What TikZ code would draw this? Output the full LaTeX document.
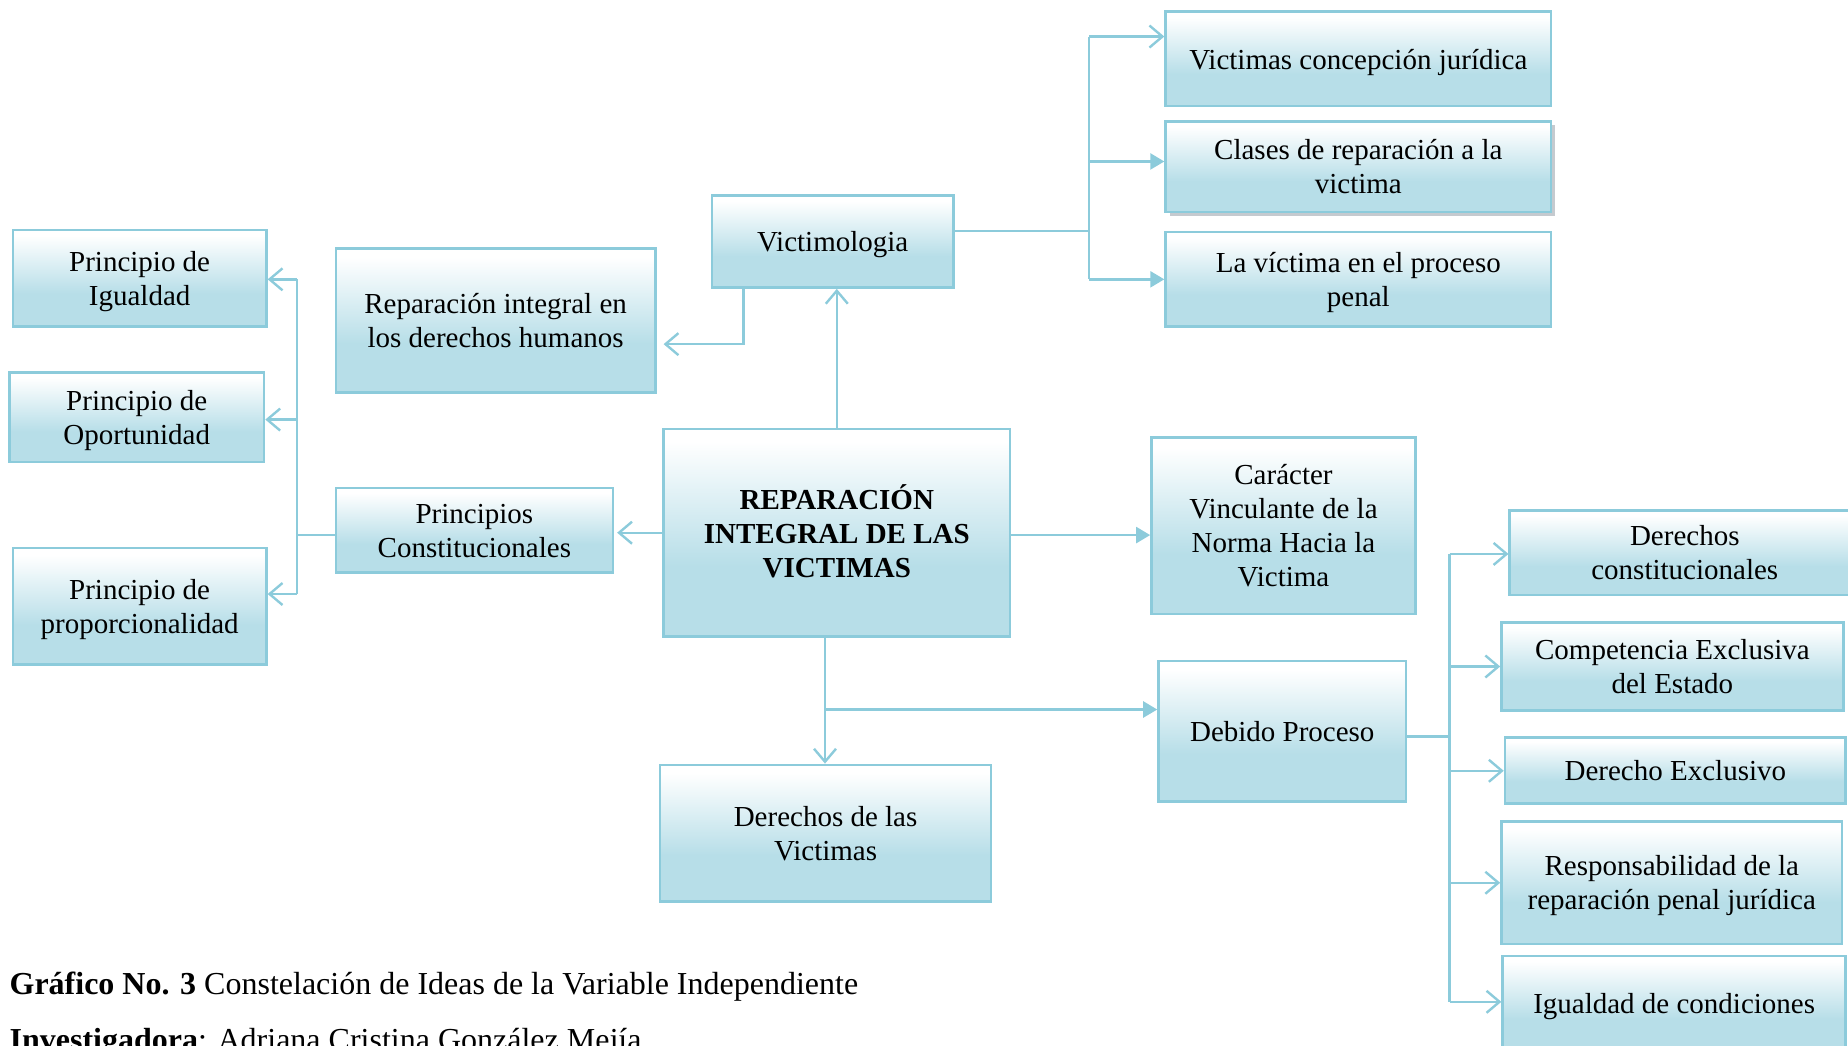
\documentclass[tikz,border=0pt]{standalone}
\usepackage{fontspec}
\setmainfont{Liberation Serif}
\usetikzlibrary{fit,arrows.meta,shadows}
\definecolor{lineblue}{RGB}{140,203,219}
\definecolor{boxbot}{RGB}{183,222,232}
\definecolor{shadowgray}{RGB}{140,150,160}
\pgfdeclareverticalshading{boxshade}{100bp}{color(0bp)=(boxbot); color(25bp)=(boxbot); color(42bp)=(boxbot); color(72bp)=(white); color(100bp)=(white)}
\newcommand\tx[1]{\raisebox{-9.5pt}[0pt][0pt]{\begin{tabular}{@{}c@{}}#1\end{tabular}}}
\begin{document}
\begin{tikzpicture}[x=1.1786pt,y=-1.1786pt,
  box/.style={draw=lineblue, line width=2.6pt, shade, shading=boxshade, inner sep=0pt, font=\fontsize{29}{34}\selectfont},
  con/.style={draw=lineblue, line width=2.4pt},
  oa/.style={-{Straight Barb[length=13pt,width=22pt]}},
  fa/.style={-{Triangle[length=14pt,width=16pt]}},
  captxt/.style={anchor=base west, inner sep=0pt, font=\fontsize{32}{38}\selectfont}]
\clip (0,0) rectangle (1568,887);
% right top column
\node[box, fit={(989,10) (1316,90)}] (v1) {\tx{Victimas concepción jurídica}};
\node[box, fit={(989,103) (1316,180)}, drop shadow={shadow xshift=4pt, shadow yshift=-4pt, fill=shadowgray}] (v2) {\tx{Clases de reparación a la\\victima}};
\node[box, fit={(989,197) (1316,277)}] (v3) {\tx{La víctima en el proceso\\penal}};
\node[box, fit={(604,166) (809,244)}] (vlog) {\tx{Victimologia}};
\node[box, fit={(285,211) (556,333)}] (rih) {\tx{Reparación integral en\\los derechos humanos}};
% left column
\node[box, fit={(11,195) (226,277)}] (pig) {\tx{Principio de\\Igualdad}};
\node[box, fit={(8,316) (224,392)}] (pop) {\tx{Principio de\\Oportunidad}};
\node[box, fit={(11,465) (226,564)}] (ppr) {\tx{Principio de\\proporcionalidad}};
\node[box, fit={(285,414) (520,486)}] (pc) {\tx{Principios\\Constitucionales}};
% center
\node[box, fit={(563,364) (857,540)}, font=\fontsize{29}{34}\selectfont\bfseries] (main) {\tx{REPARACIÓN\\INTEGRAL DE LAS\\VICTIMAS}};
\node[box, fit={(977,371) (1201,521)}] (car) {\tx{Carácter\\Vinculante de la\\Norma Hacia la\\Victima}};
\node[box, fit={(983,561) (1193,680)}] (dp) {\tx{Debido Proceso}};
\node[box, fit={(560,649) (841,765)}] (dv) {\tx{Derechos de las\\Victimas}};
% right bottom column
\node[box, fit={(1281,433) (1578,505)}] (dc) {\tx{Derechos\\constitucionales}};
\node[box, fit={(1274,528) (1564,603)}] (ce) {\tx{Competencia Exclusiva\\del Estado}};
\node[box, fit={(1277,626) (1566,682)}] (dx) {\tx{Derecho Exclusivo}};
\node[box, fit={(1274,697) (1563,801)}] (rp) {\tx{Responsabilidad de la\\reparación penal jurídica}};
\node[box, fit={(1275,811) (1566,892)}] (ig) {\tx{Igualdad de condiciones}};
% connectors: Victimologia branch
\coordinate (vb) at (924,196);
\coordinate (vbt) at (924,31);
\coordinate (vbb) at (924,237);
\draw[con] (vlog.east |- vb) -- (vb);
\draw[con] (vbt) -- (vbb);
\draw[con,oa] (vbt) -- (vbt -| v1.west);
\draw[con,fa] (vb |- 0,137) -- (v2.west |- 0,137);
\draw[con,fa] (vbb) -- (vbb -| v3.west);
% main up
\draw[con,oa] (main.north) -- (main.north |- vlog.south);
% Victimologia to Reparacion integral
\coordinate (vr) at (631,292);
\draw[con,oa] (vlog.south -| vr) -- (vr) -- ([xshift=7pt]vr -| rih.east);
% main to principios
\draw[con,oa] (main.west) -- ([xshift=3pt]main.west -| pc.east);
\coordinate (pb) at (252,454);
\coordinate (pbt) at (252,237);
\coordinate (pbb) at (252,504);
\draw[con] (pc.west |- pb) -- (pb);
\draw[con] (pbt) -- (pbb);
\draw[con,oa] (pbt) -- (pbt -| pig.east);
\draw[con,oa] (pb |- 0,356) -- (pop.east |- 0,356);
\draw[con,oa] (pbb) -- (pbb -| ppr.east);
% main to caracter
\draw[con,fa] (main.east |- 0,454) -- (car.west |- 0,454);
% main down
\coordinate (md) at (700,602);
\draw[con,oa] (main.south -| md) -- (md |- dv.north);
\draw[con,fa] (md) -- (md -| dp.west);
% debido proceso branch
\coordinate (db) at (1230,625);
\coordinate (dbt) at (1230,470);
\coordinate (dbb) at (1230,850);
\draw[con] (dp.east |- db) -- (db);
\draw[con] (dbt) -- (dbb);
\draw[con,oa] (dbt) -- (dbt -| dc.west);
\draw[con,oa] (db |- ce.west) -- (ce.west);
\draw[con,oa] (db |- dx.west) -- (dx.west);
\draw[con,oa] (db |- rp.west) -- (rp.west);
\draw[con,oa] (dbb) -- (dbb -| ig.west);
% caption
\node[captxt] (cap1) at (8,844) {\textbf{Gráfico No. 3} Constelación de Ideas de la Variable Independiente};
\node[captxt] (cap2) at (8,891) {\textbf{Investigadora}: Adriana Cristina González Mejía};
\end{tikzpicture}
\end{document}
